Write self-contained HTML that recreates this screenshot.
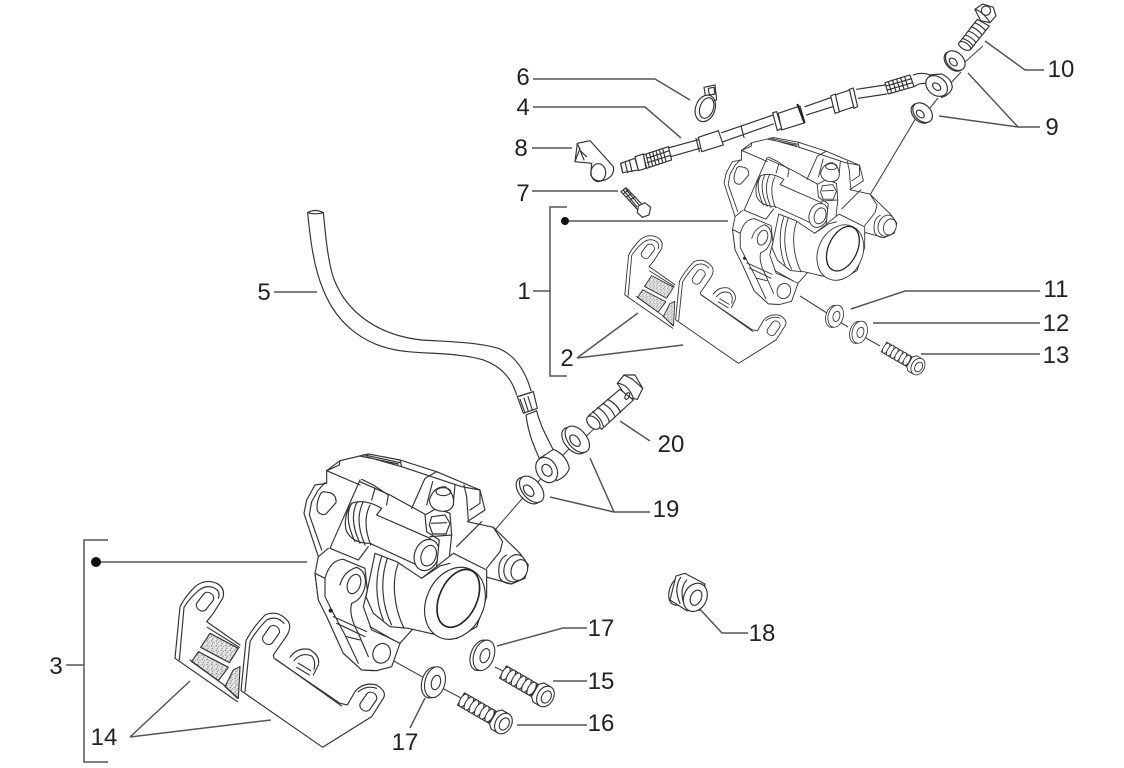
<!DOCTYPE html>
<html><head><meta charset="utf-8">
<style>
html,body{margin:0;padding:0;background:#fff;width:1124px;height:768px;overflow:hidden}
svg{display:block}
text{font-family:"Liberation Sans",sans-serif;font-size:24px;fill:#222;text-anchor:middle}
.l{fill:none;stroke:#555;stroke-width:1.5}
.p{fill:#fff;stroke:#333;stroke-width:3.5;stroke-linejoin:round;stroke-linecap:round}
.n{fill:none;stroke:#333;stroke-width:3.5;stroke-linejoin:round;stroke-linecap:round}
.k{fill:none;stroke:#222;stroke-width:7}
.q{fill:#fff;stroke:#333;stroke-width:1.1}
.m{fill:none;stroke:#333;stroke-width:1.1}
</style></head>
<body>
<svg width="1124" height="768" viewBox="0 0 1124 768" xmlns="http://www.w3.org/2000/svg">
<defs>
<pattern id="sp" width="14" height="14" patternUnits="userSpaceOnUse">
<rect width="14" height="14" fill="#e4e4e4"/>
<circle cx="3" cy="3" r="1.8" fill="#666"/><circle cx="10" cy="6" r="1.6" fill="#777"/><circle cx="6" cy="11" r="1.8" fill="#666"/>
</pattern>
<g id="slot"><rect x="-17" y="-36" width="34" height="72" rx="17" class="p"/></g>
<g id="thrA">
<path class="q" d="M0,-7 L36,-7 L36,7 L0,7 Z"/>
<ellipse class="q" cx="3" cy="0" rx="3.5" ry="7"/><ellipse class="q" cx="9" cy="0" rx="3.5" ry="7.3"/><ellipse class="q" cx="15" cy="0" rx="3.5" ry="7.3"/><ellipse class="q" cx="21" cy="0" rx="3.5" ry="7.3"/><ellipse class="q" cx="27" cy="0" rx="3.5" ry="7.3"/><ellipse class="q" cx="33" cy="0" rx="3.5" ry="7"/>
<path class="q" d="M37,-7 L41,-11 L49,-11 L49,11 L41,11 L37,7 Z"/>
<ellipse class="q" cx="49" cy="0" rx="8" ry="11"/>
<ellipse class="q" cx="50" cy="0" rx="4.5" ry="6.5"/>
</g>
<g id="washer"><ellipse class="q" cx="-2" cy="1" rx="10" ry="15"/><ellipse class="q" cx="1" cy="0" rx="10" ry="15"/><ellipse class="q" cx="2" cy="0" rx="4.5" ry="7"/></g>

<g id="brk">
<!-- left bracket (zoom2 coords) -->
<path fill="#fff" d="M262,395 L75,265 L90,110 Q105,80 135,50 Q165,25 200,40 Q228,55 218,85 L190,130 L170,155 L270,225 L270,395 Z"/>
<path class="n" d="M262,395 L75,265 L90,110 Q105,80 135,50 Q165,25 200,40 Q228,55 218,85 L190,130 L170,155 L270,225"/>
<path class="n" d="M88,270 L102,112 Q118,85 145,62 Q170,42 195,55 Q212,65 205,85"/>
<use href="#slot" transform="translate(165,95) rotate(38) scale(1,.85)"/>
<path d="M180,190 L265,235 L238,278 L152,232 Z" fill="url(#sp)" stroke="#333" stroke-width="3.5" stroke-linejoin="round"/>
<path d="M145,245 L235,292 L205,332 L125,275 Z" fill="url(#sp)" stroke="#333" stroke-width="3.5" stroke-linejoin="round"/>
<path d="M250,300 L270,290 L265,385 L225,350 Z" fill="url(#sp)" stroke="#333" stroke-width="3.5" stroke-linejoin="round"/>
<path class="n" d="M172,172 L268,232 M120,270 L222,345 L262,385"/>
<!-- right bracket -->
<path class="p" d="M273,362 L288,212 Q310,170 345,135 Q385,118 415,155 Q427,175 405,205 L370,255 L372,265 L570,400 L592,405 L615,365 Q640,335 680,345 Q712,365 700,385 L665,440 L518,532 Z"/>
<path class="n" d="M285,365 L300,215 Q320,180 350,150 Q380,135 402,160 M378,268 L575,408 M625,365 Q650,345 680,355"/>
<use href="#slot" transform="translate(363,195) rotate(35) scale(1,.85)"/>
<use href="#slot" transform="translate(655,395) rotate(35) scale(1,.85)"/>
<path class="n" d="M420,262 Q440,232 478,238 Q512,258 505,285 L490,315 M432,272 Q455,245 485,258 Q498,272 492,298 M445,280 L482,302 M440,292 L478,315"/>
</g>

<g id="cal">
<path class="p" d="M140,130 L140,92 L180,62 L265,42 L360,60 L470,95 L600,150 L615,210 L562,245 L640,262 L720,340 L745,375 L735,415 L695,432 L615,410 L618,470 L590,560 L530,595 L450,580 L400,565 L360,610 L330,680 L280,692 L245,690 L190,640 L125,495 L115,480 L105,400 L115,350 L72,220 L80,180 L105,135 Z"/>
<!-- top housing -->
<path class="n" d="M180,62 L178,75 L140,92 M240,48 L355,72 M250,44 L360,68 M258,50 L365,80 L545,140 L600,150 M360,60 L365,80 M470,95 L435,115 L395,205 M140,92 L240,135 M240,125 L330,165 L445,228"/>
<path class="n" d="M552,135 L560,170 L565,240 M600,150 L600,190 L570,210 M525,135 L520,190 M458,125 L440,195"/>
<!-- left tab -->
<path class="n" d="M135,128 L115,150 L95,185 L88,225 L125,330"/>
<path class="n" d="M120,165 Q108,190 112,212 Q122,228 138,222 L168,188 Q170,165 150,158 L130,155 Q122,158 120,165 Z"/>
<path class="n" d="M240,120 L150,325 L235,360 L265,320 M145,325 L115,350"/>
<path class="n" d="M245,118 L280,135 L325,165 L320,195 M285,145 L275,180"/>
<!-- piston/cylinder -->
<path class="p" d="M215,190 Q255,175 305,205 L290,225 L450,295 L490,340 L430,385 L400,370 L270,310 Q215,310 198,270 Q190,225 215,190 Z"/>
<path class="n" d="M215,190 Q190,230 225,305 M232,185 Q205,235 240,310 M250,185 Q222,240 255,315 M270,195 Q245,245 272,315"/>
<ellipse class="p" cx="440" cy="345" rx="36" ry="48" transform="rotate(20 440 345)"/>
<ellipse class="p" cx="446" cy="347" rx="22" ry="32" transform="rotate(20 446 347)"/>
<!-- bleeder -->
<path class="p" d="M435,225 L470,205 L510,220 L515,285 L505,380 L470,378 L478,300 L440,275 Z"/>
<path class="p" d="M448,180 Q460,140 495,140 Q525,160 520,195 Q510,220 475,212 Q450,205 448,180 Z"/>
<ellipse class="n" cx="490" cy="155" rx="22" ry="12"/>
<path class="p" d="M455,230 L495,225 L510,250 L498,282 L458,282 L448,255 Z"/>
<path class="n" d="M455,250 L500,248 M450,290 L515,285"/>
<!-- right lug -->
<path class="n" d="M530,320 L605,245 M640,262 L668,305 L660,335 L620,385"/>
<ellipse class="p" cx="705" cy="385" rx="32" ry="42" transform="rotate(20 705 385)"/>
<path class="n" d="M680,345 Q650,360 658,410 Q665,430 695,432"/>
<ellipse class="p" cx="718" cy="390" rx="24" ry="32" transform="rotate(20 718 390)"/>
<!-- body -->
<path class="p" d="M285,340 L350,365 L425,415 L520,340 L620,390 L620,470 L590,560 L530,595 L450,580 L385,565 L330,560 L280,520 L258,470 Z"/>
<path class="n" d="M355,370 C335,420 340,500 372,565 M322,355 C300,420 305,495 335,555 M305,350 C285,410 285,480 310,540"/>
<path class="n" d="M425,415 L480,378 L510,370"/>
<ellipse class="p" cx="525" cy="490" rx="86" ry="112" transform="rotate(25 525 490)"/>
<ellipse class="k" cx="535" cy="475" rx="56" ry="92" transform="rotate(25 535 475)" style="stroke-width:5"/>
<!-- lever -->
<path class="p" d="M105,400 L135,415 Q150,360 190,358 L255,385 L262,450 L250,500 L275,570 L320,590 L360,610 L335,680 L290,692 L245,690 L190,640 L140,530 L115,480 Z"/>
<path class="n" d="M135,415 L135,470 L155,510 M180,435 Q190,395 230,382 Q262,395 255,440 Q245,480 215,490 Q205,525 235,580 L265,650 M155,510 L195,585 L235,670"/>
<ellipse class="n" cx="222" cy="432" rx="19" ry="30" transform="rotate(20 222 432)"/>
<circle cx="152" cy="512" r="6" fill="#222"/>
<path class="n" d="M160,530 L260,575 M170,550 L255,590 M200,590 L240,600 M270,560 L340,600"/>
<ellipse class="p" cx="305" cy="640" rx="26" ry="30" transform="rotate(20 305 640)"/>
</g>
</defs>

<!-- leaders -->
<g class="l">
<path d="M533,79 H655 L690,100"/>
<path d="M533,107 H645 L681,138"/>
<path d="M532,148 H572"/>
<path d="M532,191 H618"/>
<path d="M274,292 H317"/>
<path d="M567,207 H550 V376 H567 M533,291 H550 M565,221 H728"/>
<path d="M577,358 L638,313 M577,358 L683,345"/>
<path d="M985,41 L1025,70 H1044"/>
<path d="M968,73 L1018,127 H1040 M939,116 L1018,127"/>
<path d="M851,309 L905,291 H1040"/>
<path d="M873,323 H1040"/>
<path d="M921,354 H1040"/>
<path d="M620,421 L650,441"/>
<path d="M590,458 L614,512 H650 M550,497 L614,512"/>
<path d="M497,646 L563,628 H587"/>
<path d="M553,681 H587"/>
<path d="M517,725 H587"/>
<path d="M697,606 Q710,620 722,633 H748"/>
<path d="M425,698 L410,728"/>
<path d="M130,737 L190,681 M130,737 L271,720"/>
<path d="M108,540 H84 V762 H108 M66,665 H84 M96,562 H307"/>
</g>
<circle cx="565" cy="221" r="4" fill="#111"/>
<circle cx="96" cy="562" r="5" fill="#111"/>

<!-- axis lines -->
<g class="m" style="stroke:#444">
<path d="M916,118 L870,195 M961,72 L950,84 M938,98 L930,108 M983,46 L965,62"/>
<path d="M800,296 L830,315 M840,322 L848,327 M866,338 L880,346"/>
<path d="M527,493 L495,530 M547,472 L538,482 M572,446 L560,458 M595,428 L582,440"/>
<path d="M383,655 L428,680 M442,688 L465,700 M495,667 L505,672"/>
</g>

<!-- small caliper + brackets -->
<g transform="translate(490,-212) scale(.77) translate(280,440) scale(.3333)">
<g transform="translate(-390,390)"><use href="#brk"/></g>
<use href="#cal"/>
</g>

<!-- big caliper + brackets -->
<g transform="translate(280,440) scale(.3333)">
<g transform="translate(-390,390)"><use href="#brk"/></g>
<use href="#cal"/>
</g>

<!-- hose 5 -->
<g transform="translate(295,200) scale(.3333)">
<path class="n" d="M38,38 C45,110 55,200 85,270 C125,370 210,445 340,455 C420,462 500,460 565,480 C620,500 650,535 665,585"/>
<path class="n" d="M85,38 C92,110 100,195 118,240 C155,335 245,405 380,420 C450,425 540,425 610,445 C660,465 690,510 708,572"/>
<path class="n" d="M38,38 Q60,25 85,38 Q60,45 38,38"/>
</g>
<!-- lower hose, banjo, washers, bolt 20 (zoom5 coords) -->
<g transform="translate(420,370) scale(.3333)">
<path class="p" d="M292,80 L340,65 L352,115 L310,130 Z"/>
<path class="n" d="M300,88 L315,128 M312,84 L325,124 M324,80 L337,120 M292,80 L340,65"/>
<path class="p" d="M318,135 C325,190 340,225 358,265 L400,240 C380,200 360,165 350,122 Z"/>
<path class="p" d="M360,265 L400,238 Q440,255 448,295 Q440,320 410,332 Z"/>
<ellipse class="p" cx="380" cy="300" rx="30" ry="40" transform="rotate(-30 380 300)"/>
<ellipse class="p" cx="381" cy="301" rx="14" ry="19" transform="rotate(-30 381 301)"/>
<ellipse class="p" cx="462" cy="212" rx="28" ry="46" transform="rotate(-40 462 212)"/>
<ellipse class="p" cx="472" cy="208" rx="28" ry="46" transform="rotate(-40 472 208)"/>
<ellipse class="n" cx="465" cy="212" rx="12" ry="20" transform="rotate(-40 465 212)"/>
<ellipse class="p" cx="325" cy="362" rx="28" ry="46" transform="rotate(-40 325 362)"/>
<ellipse class="p" cx="335" cy="358" rx="28" ry="46" transform="rotate(-40 335 358)"/>
<ellipse class="n" cx="326" cy="362" rx="12" ry="20" transform="rotate(-40 326 362)"/>
<!-- bolt 20 -->
<path class="p" d="M592,40 L612,15 L645,15 L668,55 L652,88 L620,82 Z"/>
<path class="n" d="M592,40 Q625,42 640,85 M612,15 L638,28 L668,55"/>
<path class="p" d="M505,138 L600,58 L640,90 L545,178 Z"/>
<path class="n" d="M518,125 Q545,145 550,170 M533,112 Q562,130 568,156 M548,100 Q578,116 585,142 M563,88 Q592,103 602,128"/>
<ellipse class="p" cx="520" cy="158" rx="15" ry="24" transform="rotate(-45 520 158)"/>
<ellipse class="n" cx="622" cy="78" rx="6" ry="11" transform="rotate(30 622 78)"/>
</g>

<!-- top hose assembly (zoom3 coords) -->
<g transform="translate(560,0) scale(.3333)">
<!-- tube -->
<path class="n" d="M320,445 L420,418 M332,470 L420,445 M485,398 L640,345 M490,425 L640,372 M735,320 L820,290 M740,345 L825,318 M890,268 L975,255 M895,295 L980,282"/>
<path class="p" d="M655,340 L720,318 L735,368 L665,390 Z"/>
<path class="k" d="M712,312 L733,368" style="stroke-width:6"/>
<path class="p" d="M638,338 L650,335 L665,385 L652,392 Z"/>
<path class="p" d="M825,285 L875,268 L890,318 L838,335 Z"/>
<path class="p" d="M812,288 L826,282 L838,336 L825,340 Z"/>
<path class="p" d="M868,268 L880,264 L893,320 L882,325 Z"/>
<path class="p" d="M415,412 L475,392 L490,435 L425,455 Z"/>
<path class="n" d="M408,415 L418,455 M543,378 L552,412"/>
<!-- crimp left -->
<path class="p" d="M250,465 L325,440 L335,480 L260,505 Z"/>
<path class="n" d="M258,462 L268,502 M268,458 L278,498 M278,455 L288,495 M288,452 L298,492 M298,448 L308,488 M308,445 L318,485 M260,475 L328,452 M262,488 L332,466" />
<path class="p" d="M225,470 L250,462 L258,505 L235,512 Z"/>
<path class="p" d="M182,490 L225,475 L235,510 L188,518 Z"/>
<path class="n" d="M195,485 L203,518 M208,480 L216,515 M182,490 L188,518"/>
<!-- crimp right + banjo -->
<path class="p" d="M975,248 L1050,225 L1062,260 L985,282 Z"/>
<path class="n" d="M985,245 L995,278 M998,241 L1008,274 M1010,237 L1020,270 M1022,233 L1032,267 M1034,230 L1044,262 M978,258 L1055,236 M982,270 L1058,248"/>
<path class="n" d="M1060,225 Q1085,215 1110,225 M1062,260 Q1075,250 1095,250"/>
<path class="p" d="M1108,225 L1145,222 Q1175,235 1177,262 Q1170,285 1145,292 Z"/>
<ellipse class="p" cx="1130" cy="258" rx="27" ry="36" transform="rotate(-50 1130 258)"/>
<ellipse class="n" cx="1130" cy="260" rx="9" ry="14" transform="rotate(-50 1130 260)"/>
<ellipse class="p" cx="1182" cy="184" rx="24" ry="34" transform="rotate(-45 1182 184)"/>
<ellipse class="p" cx="1186" cy="182" rx="24" ry="34" transform="rotate(-45 1186 182)"/>
<ellipse class="n" cx="1180" cy="186" rx="9" ry="14" transform="rotate(-45 1180 186)"/>
<ellipse class="p" cx="1083" cy="340" rx="24" ry="34" transform="rotate(-45 1083 340)"/>
<ellipse class="p" cx="1088" cy="338" rx="24" ry="34" transform="rotate(-45 1088 338)"/>
<ellipse class="n" cx="1081" cy="342" rx="9" ry="14" transform="rotate(-45 1081 342)"/>
<!-- bolt 10 -->
<path class="p" d="M1245,28 L1268,12 L1300,22 L1308,48 L1290,68 L1262,62 Z"/>
<path class="n" d="M1245,28 Q1270,35 1290,68"/>
<circle class="n" cx="1278" cy="32" r="14"/>
<path class="p" d="M1198,128 L1252,58 L1288,78 L1232,148 Z"/>
<path class="n" d="M1208,115 Q1228,122 1240,138 M1216,105 Q1238,112 1248,128 M1225,93 Q1245,100 1258,116 M1234,80 Q1254,88 1266,104 M1244,68 Q1262,75 1275,90"/>
<ellipse class="p" cx="1214" cy="138" rx="10" ry="20" transform="rotate(-60 1214 138)"/>
<!-- clip 6 -->
<path class="p" d="M432,262 L465,255 L470,300 L440,310 Z"/>
<path class="n" d="M445,265 L462,262 L465,282 L448,285 Z"/>
<ellipse class="p" cx="436" cy="325" rx="29" ry="41" transform="rotate(20 436 325)"/>
<ellipse class="n" cx="440" cy="324" rx="20" ry="32" transform="rotate(20 440 324)"/>
<!-- clip 8 -->
<path class="p" d="M52,430 L90,422 L160,500 Q165,528 135,540 Q105,550 92,525 L95,490 L45,485 Z"/>
<ellipse class="n" cx="115" cy="518" rx="22" ry="27"/>
<path class="n" d="M52,430 L72,480 M58,450 L80,470 M45,485 L60,445"/>
<!-- screw 7 -->
<path class="p" d="M183,575 L198,563 L245,612 L232,628 Z"/>
<path class="n" d="M190,570 L230,620 M198,568 L238,616 M192,580 L205,570 M200,590 L215,580 M210,600 L225,590"/>
<path class="p" d="M235,618 L255,608 L272,622 L267,645 L247,652 L232,638 Z"/>
</g>

<!-- bolts 13, 15, 16 -->
<use href="#thrA" transform="translate(461,699) rotate(30)"/>
<use href="#thrA" transform="translate(503,672) rotate(30)"/>
<use href="#thrA" transform="translate(884,347) rotate(30) scale(.8)"/>
<!-- washers -->
<use href="#washer" transform="translate(434,682) rotate(15) scale(1,1.05)"/>
<use href="#washer" transform="translate(483,655) rotate(20) scale(1,1.05)"/>
<use href="#washer" transform="translate(835,316) rotate(15) scale(.75)"/>
<use href="#washer" transform="translate(859,332) rotate(15) scale(.75)"/>

<!-- gasket 18 -->
<g transform="translate(640,560) scale(.3333)">
<ellipse class="p" cx="120" cy="90" rx="30" ry="48" transform="rotate(25 120 90)"/>
<path class="p" d="M108,48 L135,40 L195,72 L180,150 L140,152 L90,120 Z"/>
<path class="n" d="M122,52 Q100,85 120,130 M140,60 Q115,90 135,140"/>
<ellipse class="p" cx="166" cy="112" rx="34" ry="44" transform="rotate(25 166 112)"/>
<ellipse class="n" cx="168" cy="113" rx="16" ry="24" transform="rotate(25 168 113)"/>
</g>

<!-- labels -->
<text x="523" y="85">6</text>
<text x="523" y="115">4</text>
<text x="521" y="156">8</text>
<text x="523" y="201">7</text>
<text x="264" y="300">5</text>
<text x="524" y="299">1</text>
<text x="567" y="366">2</text>
<text x="1061" y="77">10</text>
<text x="1052" y="135">9</text>
<text x="1056" y="297">11</text>
<text x="1056" y="331">12</text>
<text x="1056" y="363">13</text>
<text x="671" y="452">20</text>
<text x="666" y="517">19</text>
<text x="601" y="636">17</text>
<text x="601" y="689">15</text>
<text x="601" y="731">16</text>
<text x="762" y="641">18</text>
<text x="405" y="750">17</text>
<text x="104" y="745">14</text>
<text x="56" y="674">3</text>
</svg>
</body></html>
